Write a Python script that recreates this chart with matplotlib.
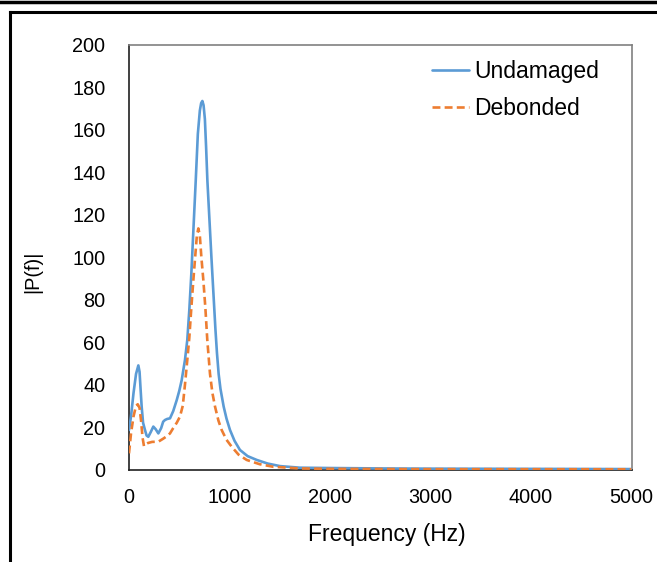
import matplotlib
matplotlib.use("Agg")
import matplotlib.pyplot as plt
from matplotlib.lines import Line2D

plt.rcParams['font.family'] = ['Liberation Sans', 'DejaVu Sans']

undamaged_f = [0, 20, 45, 70, 93, 105, 115, 126, 140, 159, 175, 192, 215, 242, 265, 292,
               320, 340, 358, 380, 408, 440, 475, 500, 524, 557, 580, 600, 620, 640, 664,
               685, 705, 718, 730, 742, 755, 767, 780, 800, 820, 840, 860, 875, 892, 910,
               942, 970, 1005, 1050, 1104, 1180, 1271, 1380, 1502, 1700, 2000, 2500, 3000,
               4000, 5000]
undamaged_p = [18.6, 25, 36, 45, 49, 46, 38, 29.6, 22, 18.6, 16, 15.4, 17.5, 20.2, 19, 17,
               19.5, 22.5, 23.3, 23.8, 24.1, 27.5, 32.7, 37, 42, 51.6, 61, 75, 92, 112, 136,
               158, 169, 172.5, 173.5, 171.5, 165, 152, 136, 118, 100, 83, 66, 55, 45, 38,
               29.6, 24, 18.6, 13.5, 9.2, 6.3, 4.5, 2.8, 1.6, 0.85, 0.7, 0.5, 0.4,
               0.3, 0.2]

debonded_f = [0, 20, 45, 70, 87, 105, 120, 135, 149, 165, 190, 230, 292, 340, 380, 408,
              440, 475, 507, 535, 557, 580, 600, 620, 640, 660, 675, 690, 705, 720, 740,
              760, 779, 806, 830, 856, 890, 922, 970, 1022, 1090, 1171, 1300, 1433, 1700,
              2000, 3000, 5000]
debonded_p = [7.6, 17, 25, 30, 30.7, 29, 23, 15, 11, 11.8, 12.5, 13, 13.1, 14.5, 15.8, 17,
              19.5, 22, 24.9, 30, 40, 51.6, 62, 76, 89, 101, 110, 113.5, 110, 100, 89,
              76, 61, 45, 36, 29.6, 23, 18.6, 14, 10.7, 7, 4.5, 2.5, 1.3, 0.5,
              0.3, 0.15, 0.1]

x_ticks = [0, 1000, 2000, 3000, 4000, 5000]
y_ticks = [0, 20, 40, 60, 80, 100, 120, 140, 160, 180, 200]

W, H = 657, 562
fig = plt.figure(figsize=(W / 100, H / 100), dpi=100)
ax = fig.add_axes([129 / W, 1 - 469.5 / H, (631.5 - 129) / W, (469.5 - 44.7) / H])

ax.plot(undamaged_f, undamaged_p, color='#5B9BD5', lw=1.9, label='Undamaged', zorder=3,
        solid_joinstyle='round', solid_capstyle='round')
ax.plot(debonded_f, debonded_p, color='#ED7D31', lw=1.9, ls=(0, (3, 1.6)), label='Debonded', zorder=4,
        dash_joinstyle='round')

ax.set_xlim(0, 5000)
ax.set_ylim(0, 200)
ax.set_xticks(x_ticks)
ax.set_yticks(y_ticks)
ax.tick_params(length=0, labelsize=14.3, colors='black')
ax.tick_params(axis='x', pad=13)
ax.tick_params(axis='y', pad=17)
for s in ['top', 'right']:
    ax.spines[s].set_color('#808080')
    ax.spines[s].set_linewidth(1.2)
for s in ['left', 'bottom']:
    ax.spines[s].set_color('#202020')
    ax.spines[s].set_linewidth(1.2)
ax.set_xlabel('Frequency (Hz)', fontsize=16.5)
ax.xaxis.set_label_coords(0.513, -0.125)
ax.set_ylabel('|P(f)|', fontsize=14.3)
ax.yaxis.set_label_coords(-0.172, 0.465)

leg = ax.legend(loc='upper right', bbox_to_anchor=(0.976, 1.012), frameon=False, fontsize=16.5,
                handlelength=1.65, handletextpad=0.2, labelspacing=0.6, borderaxespad=0.5)

# outer frame lines (screenshot border)
fig.add_artist(Line2D([0, 1], [1 - 1.5 / H, 1 - 1.5 / H], color='black', lw=2.5, transform=fig.transFigure))
fig.add_artist(Line2D([9.5 / W, 1], [1 - 11.5 / H, 1 - 11.5 / H], color='black', lw=2.2, transform=fig.transFigure))
fig.add_artist(Line2D([10 / W, 10 / W], [0, 1 - 11.5 / H], color='black', lw=2.2, transform=fig.transFigure))

fig.savefig('out.png', dpi=100)
